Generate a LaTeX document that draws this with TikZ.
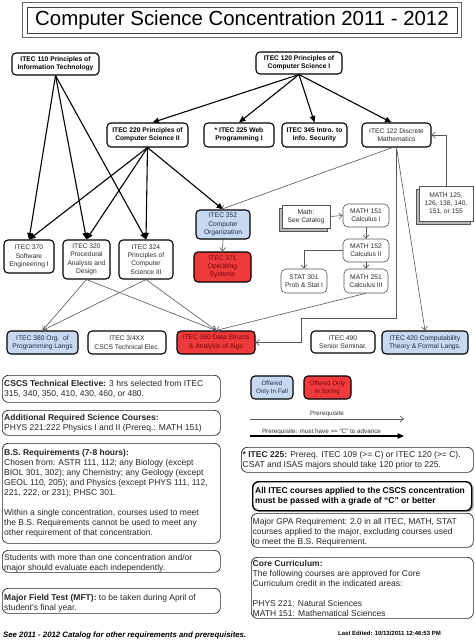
\documentclass[tikz,border=0pt]{standalone}
\usepackage{fontspec}
\setmainfont{Liberation Sans}
\usetikzlibrary{arrows.meta,shadows}
\definecolor{fallblue}{RGB}{198,217,241}
\definecolor{sprred}{RGB}{238,58,58}
\definecolor{sprtext}{RGB}{110,10,10}
\definecolor{falltext}{RGB}{30,45,80}
\definecolor{nodetext}{RGB}{45,45,45}
\definecolor{thinline}{RGB}{85,85,85}
\begin{document}
\begin{tikzpicture}[x=1pt,y=-1pt,
  crs/.style={draw=black, line width=1.1pt, rounded corners=4pt, align=center, inner sep=0pt, fill=white,
    font=\fontsize{6.7}{8.3}\selectfont, text=nodetext},
  crsb/.style={crs, font=\fontsize{6.7}{8.3}\selectfont\bfseries, text=black},
  fallc/.style={fill=fallblue, text=falltext},
  sprc/.style={fill=sprred, text=sprtext},
  mth/.style={draw=thinline, line width=0.6pt, rounded corners=5pt, align=center, inner sep=0pt, fill=white,
    font=\fontsize{6.7}{8.3}\selectfont, text=nodetext},
  threed/.style={draw=thinline, line width=0.6pt, align=center, inner sep=0pt, fill=white,
    font=\fontsize{6.7}{8.3}\selectfont, text=nodetext,
    general shadow={fill=gray!55, draw=thinline, line width=0.4pt, shadow xshift=-3pt, shadow yshift=-3pt}},
  strongarr/.style={line width=1.1pt, -{Triangle[length=6.5pt,width=5.5pt]}},
  weakarr/.style={draw=thinline, line width=0.6pt, -{Straight Barb[length=3.5pt,width=6pt]}},
  tbox/.style={draw=black!85, line width=0.7pt, rounded corners=6pt, inner sep=0pt, anchor=north west},
  tbody/.style={font=\fontsize{8.5}{10}\selectfont, align=left, inner sep=0pt, anchor=west, text=black!85},
  legtext/.style={font=\fontsize{6.3}{7.5}\selectfont, text=nodetext, inner sep=0pt},
]
\useasboundingbox (0,0) rectangle (474,642);
\fill[white] (0,0) rectangle (474,642);

% title
\node[draw=black!75, line width=0.9pt,
  minimum width=430pt, minimum height=26pt, inner sep=0pt,
  font=\fontsize{20.4}{24}\selectfont] (title) at (242,20) {Computer Science Concentration 2011 - 2012};
\draw[gray!80!black, line width=0.6pt] ([shift={(-4,-4)}]title.north west) rectangle ([shift={(4,4)}]title.south east);

% top level
\node[crsb, minimum width=87pt, minimum height=22pt] (t110) at (55.5,64) {ITEC 110 Principles of\\Information Technology};
\node[crsb, minimum width=86pt, minimum height=22pt] (t120) at (299,63) {ITEC 120 Principles of\\Computer Science I};

% second level
\node[crsb, minimum width=81pt, minimum height=24pt] (t220) at (147.5,135) {ITEC 220 Principles of\\Computer Science II};
\node[crsb, minimum width=70pt, minimum height=24pt] (t225) at (239,135) {* ITEC 225 Web\\Programming I};
\node[crsb, minimum width=65pt, minimum height=24pt] (t345) at (314.5,135) {ITEC 345 Intro. to\\Info. Security};
\node[crs, minimum width=69pt, minimum height=24pt] (t122) at (396.5,135) {ITEC 122 Discrete\\Mathematics};

% third level
\node[crs, minimum width=50pt, minimum height=33pt] (t370) at (29,256.5) {ITEC 370\\Software\\Engineering I};
\node[crs, minimum width=47pt, minimum height=39pt] (t320) at (86.5,259.5) {ITEC 320\\Procedural\\Analysis and\\Design};
\node[crs, minimum width=54pt, minimum height=39pt] (t324) at (146,259.5) {ITEC 324\\Principles of\\Computer\\Science III};
\node[crs, fallc, minimum width=54pt, minimum height=29pt] (t352) at (223,224.5) {ITEC 352\\Computer\\Organization};
\node[crs, sprc, minimum width=57pt, minimum height=30pt] (t371) at (222.5,267) {ITEC 371\\Operating\\Systems};

% math
\node[threed, minimum width=48pt, minimum height=23pt] (mcat) at (306,216.5) {Math:\\See Catalog};
\node[mth, minimum width=46pt, minimum height=23pt] (m151) at (366,215.5) {MATH 151\\Calculus I};
\node[mth, minimum width=46pt, minimum height=23pt] (m152) at (366,250.5) {MATH 152\\Calculus II};
\node[mth, minimum width=46pt, minimum height=24pt] (s301) at (304,281) {STAT 301\\Prob \& Stat I};
\node[mth, minimum width=44pt, minimum height=24pt] (m251) at (366,281) {MATH 251\\Calculus III};
\node[threed, minimum width=54pt, minimum height=35pt] (m125) at (446,203.5) {MATH 125,\\126, 138, 140,\\151, or 155};

% bottom row
\node[crs, fallc, minimum width=71pt, minimum height=23pt] (t380) at (42.5,342.5) {ITEC 380 Org.\ \ of\\Programming Langs};
\node[crs, minimum width=78pt, minimum height=23pt] (t3xx) at (127,342.5) {ITEC 3/4XX\\CSCS Technical Elec.};
\node[crs, sprc, minimum width=78pt, minimum height=23pt] (t360) at (216,342.5) {ITEC 360 Data Structs\\\& Analysis of Algs};
\node[crs, minimum width=64pt, minimum height=22pt] (t490) at (343,342) {ITEC 490\\Senior Seminar.};
\node[crs, fallc, minimum width=86pt, minimum height=23pt] (t420) at (425,342.5) {ITEC 420 Computability\\Theory \& Formal Langs.};

% strong prerequisites
\draw[strongarr] (t110.south) -- (t370.north);
\draw[strongarr] (t110.south) -- (t320.north);
\draw[strongarr] (t110.south) -- (t324.north);
\draw[strongarr] (t120.south) -- ([xshift=5pt]t220.north);
\draw[strongarr] (t120.south) -- (t225.north);
\draw[strongarr] (t120.south) -- (t345.north);
\draw[strongarr] (t120.south) -- ([xshift=-5pt]t122.north);
\draw[strongarr] (t220.south) -- (t370.north);
\draw[strongarr] (t220.south) -- (t320.north);
\draw[strongarr] (t220.south) -- (t324.north);
\draw[strongarr] (t220.south) -- (t352.north);

% weak prerequisites
\coordinate (j1) at (301,318);
\draw[weakarr] ([xshift=-4pt]t122.south) -- ([xshift=-2pt]t352.north);
\draw[weakarr] (t122.south) -- (t420.north);
\draw[weakarr] (t122.south) |- (j1) |- (t360.east);
\draw[weakarr] (m125.north) |- (t122.east);
\draw[weakarr] (mcat.east) -- (m151.west);
\draw[weakarr] (m151.south) -- (m152.north);
\draw[weakarr] (m152.west) -| (s301.north);
\draw[weakarr] (m152.south) -- (m251.north);
\draw[weakarr] (m251.south) -- (t360.north);
\draw[weakarr] (t352.south) -- (t371.north);
\draw[weakarr] (t320.south) -- (t380.north);
\draw[weakarr] (t320.south) -- (t360.north);
\draw[weakarr] (t324.south) -- (t380.north);
\draw[weakarr] (t324.south) -- (t360.north);

% legend
\node[crs, fallc, minimum width=42pt, minimum height=23pt, font=\fontsize{6.3}{7.8}\selectfont] (lfall) at (272,387.5) {Offered\\Only In Fall};
\node[crs, sprc, minimum width=47pt, minimum height=23pt, font=\fontsize{6.3}{7.8}\selectfont] (lspr) at (327.5,387.5) {Offered Only\\in Spring};
\coordinate (la1) at (250,419);
\coordinate (lb1) at (404,419);
\coordinate (la2) at (250,436);
\coordinate (lb2) at (404,436);
\draw[weakarr] (la1) -- (lb1);
\draw[strongarr] (la2) -- (lb2);
\node[legtext] (lp1) at (327,414) {Prerequisite};
\node[legtext] (lp2) at (321.5,431.5) {Prerequisite: must have >= “C” to advance};

% left text boxes
\node[tbox, minimum width=218pt, minimum height=27pt] (bTech) at (2,375) {};
\node[tbody] (xTech) at ([xshift=2pt,yshift=-0.5pt]bTech.west) {\textbf{CSCS Technical Elective:} 3 hrs selected from ITEC\\315, 340, 350, 410, 430, 460, or 480.};
\node[tbox, minimum width=218pt, minimum height=25pt] (bSci) at (2,410) {};
\node[tbody] (xSci) at ([xshift=2pt,yshift=-0.5pt]bSci.west) {\textbf{Additional Required Science Courses:}\\PHYS 221:222 Physics I and II (Prereq.: MATH 151)};
\node[tbox, minimum width=218pt, minimum height=100pt] (bBS) at (2,443) {};
\node[tbody] (xBS) at ([xshift=2pt,yshift=0pt]bBS.west) {\textbf{B.S. Requirements (7-8 hours):}\\Chosen from: ASTR 111, 112; any Biology (except\\BIOL 301, 302); any Chemistry; any Geology (except\\GEOL 110, 205); and Physics (except PHYS 111, 112,\\221, 222, or 231); PHSC 301.\\[10pt]Within a single concentration, courses used to meet\\the B.S. Requirements cannot be used to meet any\\other requirement of that concentration.};
\node[tbox, minimum width=218pt, minimum height=22pt] (bStu) at (2,550) {};
\node[tbody] (xStu) at ([xshift=2pt,yshift=-2pt]bStu.west) {Students with more than one concentration and/or\\major should evaluate each independently.};
\node[tbox, minimum width=218pt, minimum height=25pt] (bMFT) at (2,588) {};
\node[tbody] (xMFT) at ([xshift=2pt,yshift=-2pt]bMFT.west) {\textbf{Major Field Test (MFT):} to be taken during April of\\student’s final year.};

% right text boxes
\node[tbox, minimum width=232pt, minimum height=25pt] (b225) at (241,447) {};
\node[tbody] (x225) at ([xshift=1.5pt,yshift=-0.5pt]b225.west) {\textbf{* ITEC 225:} Prereq. ITEC 109 (>= C) or ITEC 120 (>= C).\\CSAT and ISAS majors should take 120 prior to 225.};
\node[tbox, draw=black, line width=1.4pt, minimum width=219pt, minimum height=29pt,
  general shadow={fill=gray!60, shadow xshift=2pt, shadow yshift=-1.5pt}, fill=white] (bAll) at (252,481) {};
\node[tbody, font=\fontsize{8.5}{10}\selectfont\bfseries, text=black] (xAll) at ([xshift=3pt]bAll.west) {All ITEC courses applied to the CSCS concentration\\must be passed with a grade of “C” or better};
\node[tbox, minimum width=222pt, minimum height=34pt] (bGPA) at (251,513) {};
\node[tbody] (xGPA) at ([xshift=1.5pt,yshift=-1.5pt]bGPA.west) {Major GPA Requirement: 2.0 in all ITEC, MATH, STAT\\courses applied to the major, excluding courses used\\to meet the B.S. Requirement.};
\node[tbox, minimum width=222pt, minimum height=61pt] (bCore) at (251,557) {};
\node[tbody] (xCore) at ([xshift=1.5pt,yshift=-1pt]bCore.west) {\textbf{Core Curriculum:}\\The following courses are approved for Core\\Curriculum credit in the indicated areas:\\[10pt]PHYS 221: Natural Sciences\\MATH 151: Mathematical Sciences};

% footer
\node[font=\fontsize{7.8}{9}\selectfont\bfseries\itshape, anchor=west, inner sep=0pt] (foot) at (3,635) {See 2011 - 2012 Catalog for other requirements and prerequisites.};
\node[font=\fontsize{6}{7}\selectfont\bfseries, inner sep=0pt] (edit) at (389.5,633) {Last Edited: 10/13/2011 12:46:53 PM};
\end{tikzpicture}
\end{document}
